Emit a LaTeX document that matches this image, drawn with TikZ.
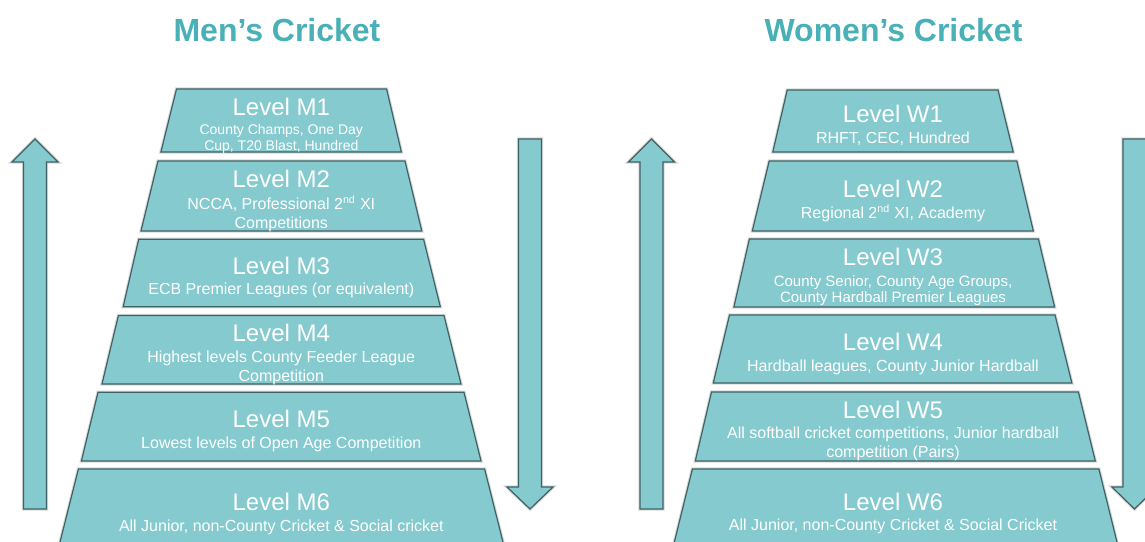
\documentclass[tikz,border=0pt]{standalone}
\usepackage{fontspec}
\setmainfont{Liberation Sans}
\definecolor{fillc}{RGB}{133,202,207}
\definecolor{edgec}{RGB}{62,98,100}
\definecolor{titlec}{RGB}{72,176,182}
\begin{document}
\begin{tikzpicture}[x=0.75pt,y=-0.75pt,
  shapebox/.style={fill=fillc, draw=edgec, line width=0.9pt, line join=miter,
    preaction={draw=black!15, line width=2.4pt}},
  titletext/.style={text=titlec, font=\bfseries\fontsize{24}{24}\selectfont, anchor=base, inner sep=0pt},
  lvltext/.style={text=white, font=\fontsize{18}{18}\selectfont, anchor=base, inner sep=0pt},
  subtext/.style={text=white, font=\fontsize{12}{12}\selectfont, anchor=base, inner sep=0pt},
  smalltext/.style={text=white, font=\fontsize{10.5}{10.5}\selectfont, anchor=base, inner sep=0pt},
  midtext/.style={text=white, font=\fontsize{11.25}{11.25}\selectfont, anchor=base, inner sep=0pt}]
\useasboundingbox (0,0) rectangle (1145,542);
\clip (0,0) rectangle (1145,542);
\fill[white] (0,0) rectangle (1145,542);

% titles
\node[titletext] (tmen) at (277,41.7) {Men’s Cricket};
\node[titletext] (twomen) at (893.5,41.7) {Women’s Cricket};

% arrows
\draw[shapebox] (23.5,509) -- (23.5,162) -- (12,162) -- (35,139) -- (58,162) -- (46.5,162) -- (46.5,509) -- cycle;
\draw[shapebox] (518.5,139) -- (541.5,139) -- (541.5,487) -- (553,487) -- (530,509) -- (507,487) -- (518.5,487) -- cycle;
\draw[shapebox] (640,509) -- (640,162) -- (628.5,162) -- (651.5,139) -- (674.5,162) -- (663,162) -- (663,509) -- cycle;
\draw[shapebox] (1123,139) -- (1146,139) -- (1146,487) -- (1157,487) -- (1134.5,509) -- (1112,487) -- (1123,487) -- cycle;

% men's pyramid
\draw[shapebox] (176.5,89) -- (386.6,89) -- (401.4,152) -- (160.9,152) -- cycle;
\draw[shapebox] (158,161) -- (405,161) -- (421.8,231) -- (141,231) -- cycle;
\draw[shapebox] (138.7,239.3) -- (423.6,239.3) -- (440.3,306.7) -- (123.2,306.7) -- cycle;
\draw[shapebox] (118.4,315.5) -- (444,315.5) -- (461,384) -- (102,384) -- cycle;
\draw[shapebox] (98,392.3) -- (464,392.3) -- (481,461) -- (81.4,461) -- cycle;
\draw[shapebox] (78.4,469) -- (484.6,469) -- (507.5,560) -- (55.5,560) -- cycle;

% women's pyramid
\draw[shapebox] (787.2,90) -- (998,90) -- (1013.2,152) -- (772.8,152) -- cycle;
\draw[shapebox] (769.2,161) -- (1016.8,161) -- (1033.3,231) -- (752.3,231) -- cycle;
\draw[shapebox] (749.4,239) -- (1038.4,239) -- (1054.6,307) -- (733.9,307) -- cycle;
\draw[shapebox] (729.5,315) -- (1055,315) -- (1071.9,383) -- (713.3,383) -- cycle;
\draw[shapebox] (711.5,392) -- (1078.4,392) -- (1095.3,461) -- (695.3,461) -- cycle;
\draw[shapebox] (692.4,469) -- (1098.9,469) -- (1121.4,560) -- (669.9,560) -- cycle;

% men's texts
\node[lvltext] (m1) at (281.3,115) {Level M1};
\node[smalltext] (m1a) at (281.3,134.3) {County Champs, One Day};
\node[smalltext] (m1b) at (281.3,150) {Cup, T20 Blast, Hundred};
\node[lvltext] (m2) at (281.3,187.7) {Level M2};
\node[subtext] (m2a) at (281.3,209.3) {NCCA, Professional 2\textsuperscript{nd} XI};
\node[subtext] (m2b) at (281.3,228.3) {Competitions};
\node[lvltext] (m3) at (281.3,274) {Level M3};
\node[subtext] (m3a) at (281.3,294.3) {ECB Premier Leagues (or equivalent)};
\node[lvltext] (m4) at (281.3,341) {Level M4};
\node[subtext] (m4a) at (281.3,362.3) {Highest levels County Feeder League};
\node[subtext] (m4b) at (281.3,381) {Competition};
\node[lvltext] (m5) at (281.3,427.3) {Level M5};
\node[subtext] (m5a) at (281.3,448.3) {Lowest levels of Open Age Competition};
\node[lvltext] (m6) at (281.3,510) {Level M6};
\node[subtext] (m6a) at (281.3,531) {All Junior, non-County Cricket \& Social cricket};

% women's texts
\node[lvltext] (w1) at (893,122.3) {Level W1};
\node[subtext] (w1a) at (893,143.3) {RHFT, CEC, Hundred};
\node[lvltext] (w2) at (893,197.3) {Level W2};
\node[subtext] (w2a) at (893,218.3) {Regional 2\textsuperscript{nd} XI, Academy};
\node[lvltext] (w3) at (893,265.7) {Level W3};
\node[midtext] (w3a) at (893,286) {County Senior, County Age Groups,};
\node[midtext] (w3b) at (893,302.3) {County Hardball Premier Leagues};
\node[lvltext] (w4) at (893,350.7) {Level W4};
\node[subtext] (w4a) at (893,371) {Hardball leagues, County Junior Hardball};
\node[lvltext] (w5) at (893,418.3) {Level W5};
\node[subtext] (w5a) at (893,438.3) {All softball cricket competitions, Junior hardball};
\node[subtext] (w5b) at (893,457.7) {competition (Pairs)};
\node[lvltext] (w6) at (893,510) {Level W6};
\node[subtext] (w6a) at (893,530.7) {All Junior, non-County Cricket \& Social Cricket};
\end{tikzpicture}
\end{document}
